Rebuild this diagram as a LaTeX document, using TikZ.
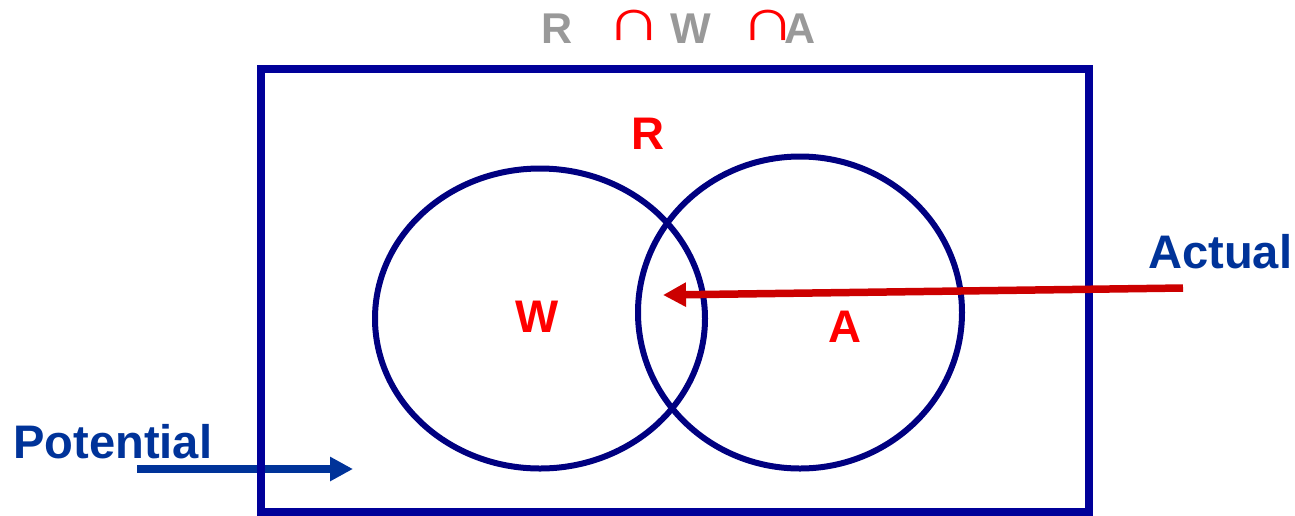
\documentclass[tikz,border=0pt]{standalone}
\usepackage{graphicx}
\usepackage{fontspec}
\setmainfont{Liberation Sans}
\usetikzlibrary{arrows.meta}

\definecolor{framenavy}{HTML}{000099}
\definecolor{ringnavy}{HTML}{000080}
\definecolor{labelblue}{HTML}{003399}
\definecolor{arrowred}{HTML}{CC0000}
\definecolor{setgray}{HTML}{999999}

\newcommand{\wideCap}{\scalebox{1}[0.78]{∩}}

\tikzset{
  setname/.style={text=red,font=\fontsize{26}{26}\selectfont\bfseries,inner sep=0pt,anchor=base},
  topname/.style={text=setgray,font=\fontsize{24.5}{24.5}\selectfont\bfseries,inner sep=0pt,anchor=base},
  capsign/.style={text=red,font=\fontsize{44}{44}\selectfont,inner sep=0pt,anchor=base},
  sidename/.style={text=labelblue,font=\fontsize{26.8}{26.8}\selectfont\bfseries,inner sep=0pt,anchor=base west},
  ring/.style={ringnavy,line width=0.12cm},
  pointer/.style={line width=0.15cm,-{Triangle[length=0.46cm,width=0.46cm]}}
}

\begin{document}
\begin{tikzpicture}[x=0.02cm,y=-0.02cm]
  \useasboundingbox (0,0) rectangle (1295,515);
  % title
  \node[topname] (topR) at (557,43) {R};
  \node[capsign] (cap1) at (634,40) {\wideCap};
  \node[topname] (topW) at (691,43) {W};
  \node[capsign] (cap2) at (768,40) {\wideCap};
  \node[topname] (topA) at (800,43) {A};
  % potential arrow
  \node[sidename] (potential) at (13,458) {Potential};
  \coordinate (potstart) at (137,469);
  \coordinate (pottip) at (353,469);
  \draw[labelblue,pointer] (potstart) -- (pottip);
  % universe and the two sets
  \draw[framenavy,line width=0.15cm] (261,69) rectangle (1089,512);
  \draw[ring] (540,318.5) ellipse [x radius=165, y radius=150];
  \draw[ring] (800,312.5) ellipse [x radius=162, y radius=156];
  \node[setname] (setR) at (648,149) {R};
  \node[setname] (setW) at (537,332) {W};
  \node[setname] (setA) at (845,342) {A};
  % actual arrow
  \node[sidename] (actual) at (1148,268) {Actual};
  \coordinate (actstart) at (1183,288);
  \coordinate (acttip) at (663,295);
  \draw[arrowred,pointer] (actstart) -- (acttip);
\end{tikzpicture}
\end{document}
